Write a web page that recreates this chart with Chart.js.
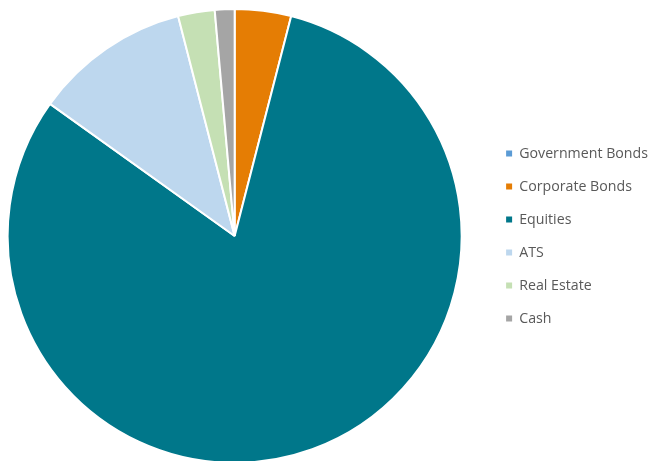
<!DOCTYPE html>
<html>
<head>
<meta charset="utf-8">
<script src="https://cdn.jsdelivr.net/npm/chart.js@4.4.0/dist/chart.umd.min.js"></script>
<style>
  html, body { margin: 0; padding: 0; background: #fff; overflow: hidden; }
  body { width: 660px; height: 461px; position: relative; }
  /* canvas a bit larger than the page so the pie sits where the original does */
  #wrap { position: absolute; left: -18px; top: 0; width: 676px; height: 464px; }
</style>
</head>
<body>
<div id="wrap"><canvas id="allocationPie"></canvas></div>
<script>
const categories = ['Government Bonds', 'Corporate Bonds', 'Equities', 'ATS', 'Real Estate', 'Cash'];
const allocation = [0, 4.0, 80.8, 11.1, 2.6, 1.4];
const sliceColors = ['#5B9BD5', '#E57D04', '#00778A', '#BDD7EE', '#C5E0B4', '#A5A5A5'];

function drawPie() {
  const ctx = document.getElementById('allocationPie').getContext('2d');
  new Chart(ctx, {
    type: 'pie',
    data: {
      labels: categories,
      datasets: [{
        data: allocation,
        backgroundColor: sliceColors,
        borderColor: '#ffffff',
        borderWidth: 2
      }]
    },
    options: {
      responsive: true,
      maintainAspectRatio: false,
      animation: false,
      layout: { padding: { top: 8 } },
      plugins: {
        tooltip: { enabled: false },
        legend: {
          position: 'right',
          labels: {
            color: '#595959',
            font: { family: 'Open Sans', size: 14.2 },
            boxWidth: 6,
            boxHeight: 6,
            padding: 18.8,
            generateLabels(chart) {
              // same items as the default, just without the white outline
              const base = Chart.overrides.pie.plugins.legend.labels.generateLabels(chart);
              return base.map(item => ({ ...item, lineWidth: 0 }));
            }
          }
        }
      }
    }
  });
}

// make sure the legend is measured with the real font
document.fonts.load('15px "Open Sans"').then(drawPie, drawPie);
</script>
</body>
</html>
